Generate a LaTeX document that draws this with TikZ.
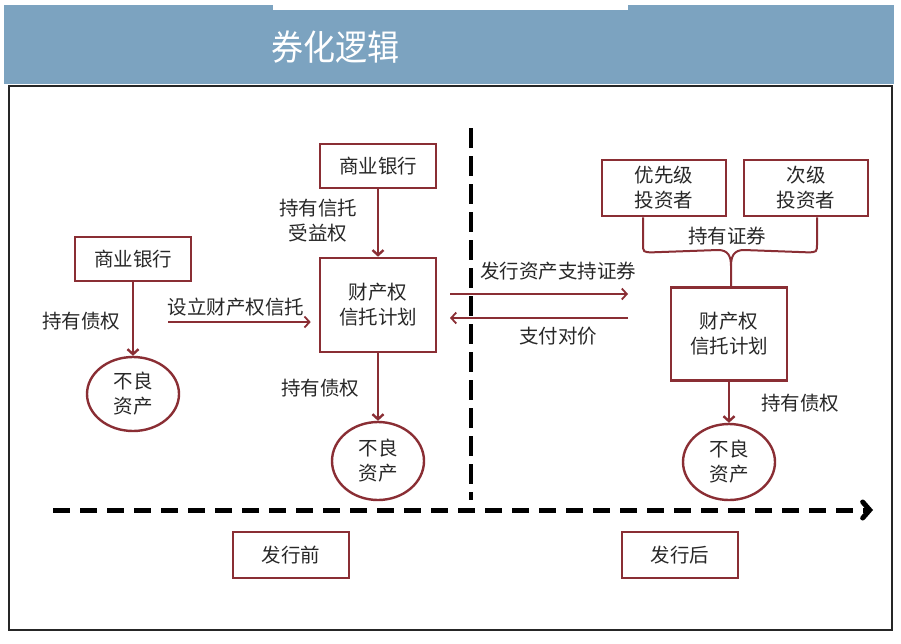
\documentclass[tikz,border=0pt]{standalone}
\usepackage{fontspec}
\setmainfont{Noto Sans CJK SC}
\usetikzlibrary{arrows.meta}
\usetikzlibrary{shapes}
\definecolor{boxred}{RGB}{138,46,52}
\definecolor{barblue}{RGB}{124,163,192}
\definecolor{inkgray}{RGB}{40,40,40}
\newcommand{\zhtext}{\fontsize{19.5}{25}\selectfont}

\begin{document}
\begin{tikzpicture}[x=1pt, y=-1pt,
  kasten/.style = {draw=boxred, line width=2.6pt, inner sep=0pt, minimum width=116pt,
                   minimum height=44pt, align=center, font=\zhtext, text=inkgray},
  blob/.style   = {ellipse, draw=boxred, line width=2.4pt, inner sep=0pt, align=center,
                   font=\zhtext, text=inkgray},
  tag/.style    = {align=center, font=\zhtext, text=inkgray},
  flow/.style   = {draw=boxred, line width=2.4pt, -{Straight Barb[length=5pt,width=11pt]}},
  thinflow/.style = {draw=boxred, line width=1.8pt, -{Straight Barb[length=5pt,width=11pt]}}]

  \useasboundingbox[fill=white] (0,0) rectangle (901,643);

  % header bar
  \fill[barblue] (4,5) rectangle (894,84);
  \fill[white] (273,0) rectangle (628,10);
  \node[text=white, font=\fontsize{32}{32}\selectfont, yscale=1.1] (title) at (335,47) {券化逻辑};
  \draw[line width=1.5pt, black!85] (9,86) rectangle (892,630);

  % before issue
  \node[kasten] (bankA) at (133,259) {商业银行};
  \node[blob, minimum width=92pt, minimum height=74pt] (badA) at (133,394) {不良\\资产};
  \node[kasten] (bankB) at (378,166) {商业银行};
  \node[kasten, minimum height=94pt] (planA) at (378,305) {财产权\\信托计划};
  \node[blob, minimum width=92pt, minimum height=78pt] (badB) at (378,461) {不良\\资产};

  \node[tag] (holdA) at (81,321) {持有债权};
  \node[tag] (setup) at (236,307) {设立财产权信托};
  \node[tag] (benefit) at (318,221) {持有信托\\受益权};
  \node[tag] (holdB) at (320,388) {持有债权};

  \draw[flow] (bankA.south) -- (badA.north);
  \draw[flow] (bankB.south) -- (planA.north);
  \draw[flow] (planA.south) -- (badB.north);
  \coordinate (setL) at (168,322);
  \draw[thinflow, shorten >=8pt] (setL) -- (setL -| planA.west);

  % issue line
  \coordinate (sepTop) at (471,128);
  \coordinate (sepBot) at (471,500);
  \draw[line width=3.5pt, dash pattern=on 20pt off 8pt] (sepTop) -- (sepBot);

  \coordinate (issL) at (450,294);
  \coordinate (issR) at (628,294);
  \coordinate (payR) at (628,318);
  \coordinate (payL) at (450,318);
  \draw[thinflow] (issL) -- (issR);
  \draw[thinflow] (payR) -- (payL);
  \node[tag] (issue) at (558,271) {发行资产支持证券};
  \node[tag] (pay) at (558,336) {支付对价};

  % after issue
  \node[kasten, minimum width=124pt, minimum height=56pt] (senior) at (664,188) {优先级\\投资者};
  \node[kasten, minimum width=124pt, minimum height=56pt] (junior) at (806,188) {次级\\投资者};
  \node[kasten, minimum height=93pt] (planB) at (729,334) {财产权\\信托计划};
  \node[blob, minimum width=92pt, minimum height=76pt] (badC) at (729,462) {不良\\资产};
  \node[tag] (holdSec) at (727,236) {持有证券};
  \node[tag] (holdC) at (800,403) {持有债权};

  \coordinate (knot) at (731,266);
  \draw[boxred, line width=2pt]
    ([xshift=-21pt]senior.south) -- ++(0,26) .. controls +(0,9) .. ++(10,9) -- (718,250)
    .. controls (728,250) and (731,256) .. (knot)
    (knot) -- (knot |- planB.north)
    ([xshift=11pt]junior.south) -- ++(0,26) .. controls +(0,9) .. ++(-10,9) -- (744,250)
    .. controls (734,250) and (731,256) .. (knot);
  \draw[flow] (planB.south) -- (badC.north);

  % time line
  \coordinate (timeL) at (53,510);
  \coordinate (timeR) at (873,510);
  \draw[line width=5pt, dash pattern=on 17pt off 10pt,
        -{Straight Barb[length=7pt,width=16pt,line cap=round]}] (timeL) -- (timeR);

  \node[kasten, minimum height=46pt] (before) at (291,555) {发行前};
  \node[kasten, minimum height=46pt] (after) at (680,555) {发行后};
\end{tikzpicture}
\end{document}
